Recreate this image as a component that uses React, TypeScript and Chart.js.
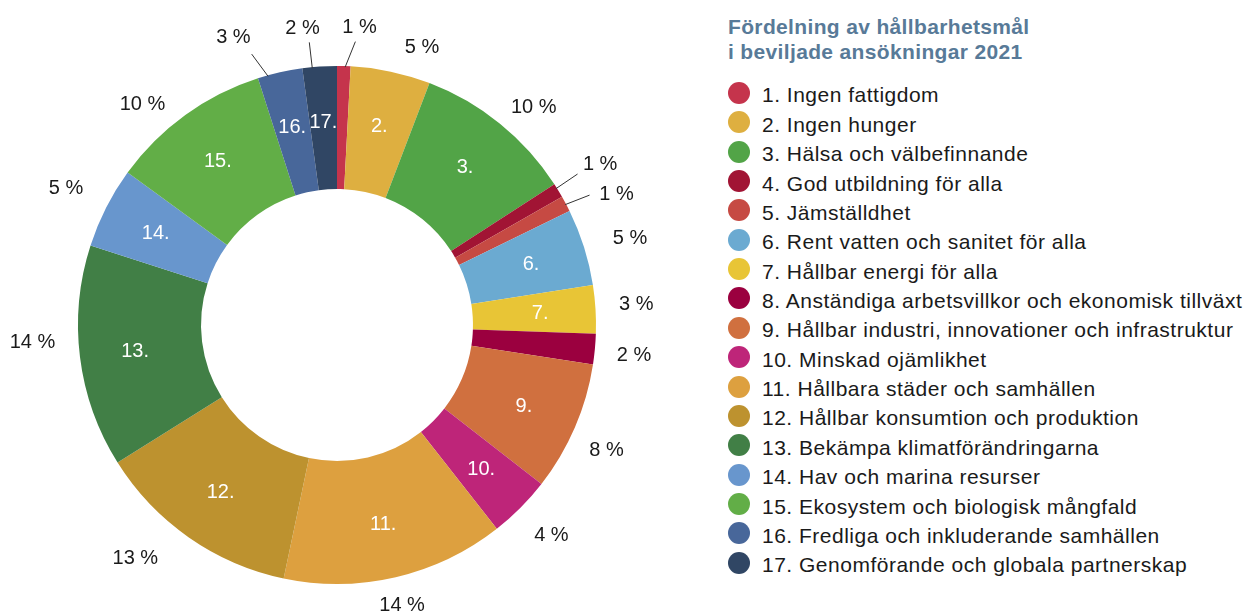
import React, { useEffect, useRef } from "react";
import { Chart, registerables } from "chart.js";

Chart.register(...registerables);

// ---- data ----
const goalNames = [
  "1. Ingen fattigdom",
  "2. Ingen hunger",
  "3. Hälsa och välbefinnande",
  "4. God utbildning för alla",
  "5. Jämställdhet",
  "6. Rent vatten och sanitet för alla",
  "7. Hållbar energi för alla",
  "8. Anständiga arbetsvillkor och ekonomisk tillväxt",
  "9. Hållbar industri, innovationer och infrastruktur",
  "10. Minskad ojämlikhet",
  "11. Hållbara städer och samhällen",
  "12. Hållbar konsumtion och produktion",
  "13. Bekämpa klimatförändringarna",
  "14. Hav och marina resurser",
  "15. Ekosystem och biologisk mångfald",
  "16. Fredliga och inkluderande samhällen",
  "17. Genomförande och globala partnerskap",
];
const goalNumbers = ["1.", "2.", "3.", "4.", "5.", "6.", "7.", "8.", "9.", "10.", "11.", "12.", "13.", "14.", "15.", "16.", "17."];
const shares = [0.84, 4.98, 10.05, 0.9, 0.99, 4.8, 3.0, 1.9, 8.1, 3.9, 13.9, 12.8, 13.9, 5.05, 10.06, 2.8, 2.14];
const percentLabels = ["1 %", "5 %", "10 %", "1 %", "1 %", "5 %", "3 %", "2 %", "8 %", "4 %", "14 %", "13 %", "14 %", "5 %", "10 %", "3 %", "2 %"];
const showNumberInside = [false, true, true, false, false, true, true, false, true, true, true, true, true, true, true, true, true];
const titleLines = ["Fördelning av hållbarhetsmål", "i beviljade ansökningar 2021"];

// ---- styles ----
const colors = [
  "#C5344C", "#DEAF40", "#52A447", "#A11434", "#C64A43", "#6BAAD1", "#E8C536", "#9B003F", "#D0703F",
  "#BE2579", "#DDA03F", "#BD922F", "#417F46", "#6896CD", "#62AE47", "#48679A", "#304664",
];
// angle shift (deg), distance beyond outer radius (px), optional leader line [startShift, endShift]
const labelPlacement: { c: number; d: number; line?: [number, number] }[] = [
  { c: 2.8, d: 40, line: [0.3, 2.2] },
  { c: 5, d: 32 },
  { c: 3, d: 35 },
  { c: -0.3, d: 50, line: [-0.6, -0.8] },
  { c: 2.7, d: 50, line: [0.1, 0.7] },
  { c: 0.8, d: 47 },
  { c: -0.6, d: 41 },
  { c: 0.4, d: 39.5 },
  { c: 1.5, d: 38 },
  { c: -0.5, d: 41 },
  { c: 0, d: 28 },
  { c: 6, d: 49 },
  { c: 4, d: 46 },
  { c: 0, d: 45 },
  { c: -5.4, d: 36 },
  { c: -7, d: 48, line: [-2.75, -4.75] },
  { c: -2.75, d: 41, line: [-1.65, -1.75] },
];

const FONT = '"Liberation Sans", Arial, Helvetica, sans-serif';

const sliceLabels = {
  id: "sliceLabels",
  afterDatasetsDraw(chart: any) {
    const ctx = chart.ctx as CanvasRenderingContext2D;
    const meta = chart.getDatasetMeta(0);
    const deg = Math.PI / 180;
    ctx.save();
    ctx.textAlign = "center";
    ctx.textBaseline = "middle";
    meta.data.forEach((arc: any, i: number) => {
      const p = arc.getProps(["x", "y", "startAngle", "endAngle", "innerRadius", "outerRadius"], true);
      const mid = (p.startAngle + p.endAngle) / 2;
      if (showNumberInside[i]) {
        const r = (p.innerRadius + p.outerRadius) / 2 + 6;
        ctx.fillStyle = "#ffffff";
        ctx.font = `20px ${FONT}`;
        ctx.fillText(goalNumbers[i], p.x + Math.cos(mid) * r, p.y + Math.sin(mid) * r + 1);
      }
      const pl = labelPlacement[i];
      if (pl.line) {
        const a0 = mid + pl.line[0] * deg;
        const a1 = mid + pl.line[1] * deg;
        const r0 = p.outerRadius - 1;
        const r1 = p.outerRadius + 25;
        ctx.strokeStyle = "#333333";
        ctx.lineWidth = 1;
        ctx.beginPath();
        ctx.moveTo(p.x + Math.cos(a0) * r0, p.y + Math.sin(a0) * r0);
        ctx.lineTo(p.x + Math.cos(a1) * r1, p.y + Math.sin(a1) * r1);
        ctx.stroke();
      }
      const a = mid + pl.c * deg;
      const r = p.outerRadius + pl.d;
      ctx.fillStyle = "#1a1a1a";
      ctx.font = `20px ${FONT}`;
      ctx.fillText(percentLabels[i], p.x + Math.cos(a) * r, p.y + Math.sin(a) * r + 1);
    });
    ctx.restore();
  },
};

export default function App() {
  const canvasRef = useRef<HTMLCanvasElement | null>(null);

  useEffect(() => {
    if (!canvasRef.current) return;
    const chart = new Chart(canvasRef.current, {
      type: "doughnut",
      data: {
        labels: goalNames,
        datasets: [
          {
            data: shares,
            backgroundColor: colors,
            borderWidth: 0,
            hoverOffset: 0,
          },
        ],
      },
      options: {
        responsive: true,
        maintainAspectRatio: false,
        animation: false,
        cutout: "52.5%",
        layout: { padding: { left: 78, right: 104, top: 66, bottom: 30 } },
        plugins: {
          legend: { display: false },
          tooltip: { enabled: false },
        },
      },
      plugins: [sliceLabels],
    });
    return () => chart.destroy();
  }, []);

  const rowStep = 29.37;
  return (
    <div style={{ position: "fixed", left: 0, top: 0, width: 1248, height: 614, background: "#ffffff", fontFamily: FONT }}>
      <div style={{ position: "absolute", left: 0, top: 0, width: 700, height: 614 }}>
        <canvas ref={canvasRef} />
      </div>
      <div
        style={{
          position: "absolute",
          left: 728,
          top: 14,
          fontWeight: "bold",
          fontSize: 21,
          letterSpacing: "0.35px",
          lineHeight: "25px",
          color: "#587A98",
          whiteSpace: "nowrap",
        }}
      >
        {titleLines.map((t, i) => (
          <div key={i}>{t}</div>
        ))}
      </div>
      {goalNames.map((name, i) => (
        <React.Fragment key={i}>
          <div
            style={{
              position: "absolute",
              left: 727.5,
              top: 81.9 + i * rowStep,
              width: 22,
              height: 22,
              borderRadius: "50%",
              background: colors[i],
            }}
          />
          <div
            style={{
              position: "absolute",
              left: 762,
              top: 80.4 + i * rowStep,
              fontSize: 21,
              letterSpacing: "0.5px",
              lineHeight: "29.25px",
              color: "#1a1a1a",
              whiteSpace: "nowrap",
            }}
          >
            {name}
          </div>
        </React.Fragment>
      ))}
    </div>
  );
}
